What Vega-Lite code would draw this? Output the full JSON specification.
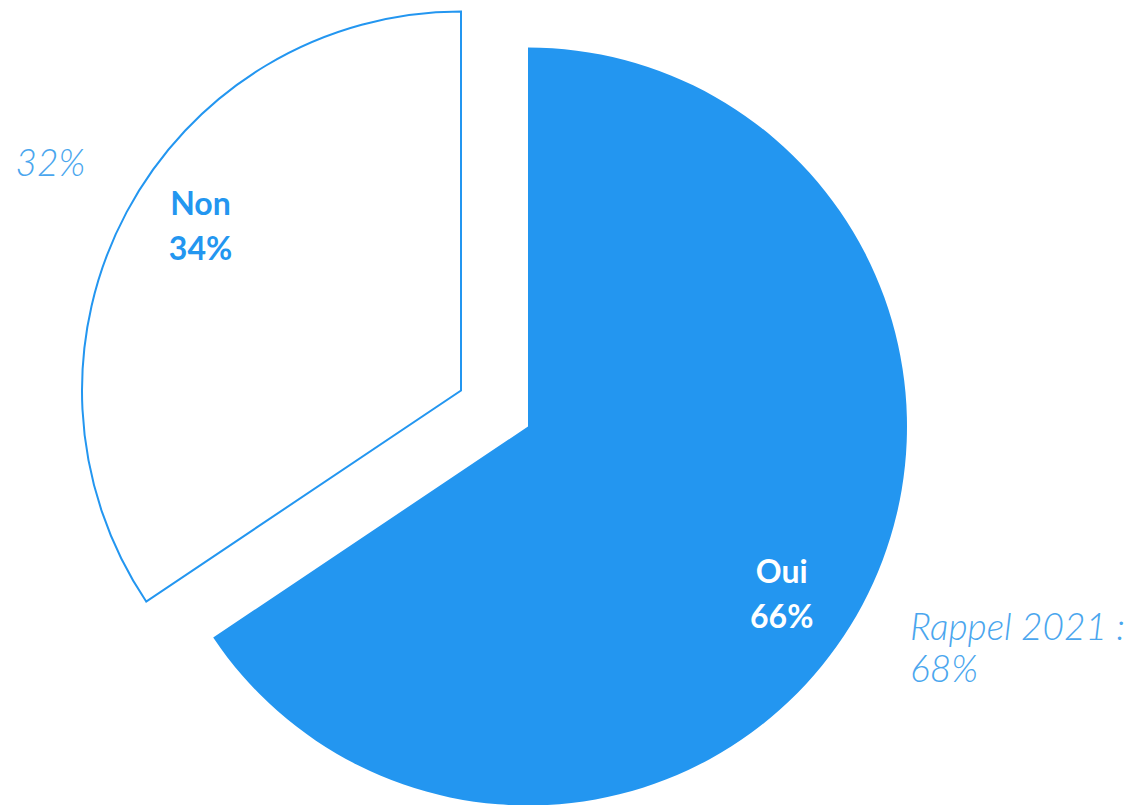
{
  "$schema": "https://vega.github.io/schema/vega-lite/v6.json",
  "width": 1145,
  "height": 805,
  "padding": 0,
  "autosize": {"type": "fit", "contains": "padding"},
  "background": "white",
  "config": {"view": {"stroke": null}},
  "data": {
    "values": [
      {"cat": "Oui", "value": 65.6, "label": ["Oui", "66%"], "prev": ["Rappel 2021 :", "68%"]},
      {"cat": "Non", "value": 34.4, "label": ["Non", "34%"], "prev": ["32%"]}
    ]
  },
  "encoding": {
    "theta": {"field": "value", "type": "quantitative", "stack": true, "scale": {"domain": [0, 100]}},
    "order": {"field": "cat", "sort": "descending"}
  },
  "layer": [
    {
      "mark": {"type": "arc", "outerRadius": 379, "color": "#2396F0", "xOffset": -44.5, "yOffset": 24.5},
      "encoding": {"opacity": {"condition": {"test": "datum.cat === 'Oui'", "value": 1}, "value": 0}}
    },
    {
      "mark": {"type": "arc", "outerRadius": 379, "fill": "white", "stroke": "#2396F0", "strokeWidth": 2, "xOffset": -111.5, "yOffset": -11.5},
      "encoding": {"opacity": {"condition": {"test": "datum.cat === 'Non'", "value": 1}, "value": 0}}
    },
    {
      "mark": {"type": "text", "radius": 300, "xOffset": -44.5, "yOffset": 24.5, "dx": -11, "dy": 5, "font": "Lato", "fontWeight": "bold", "fontSize": 32, "lineHeight": 45, "color": "white", "align": "center", "baseline": "middle"},
      "encoding": {"text": {"condition": {"test": "datum.cat === 'Oui'", "field": "label"}, "value": ""}}
    },
    {
      "mark": {"type": "text", "radius": 310, "xOffset": -111.5, "yOffset": -11.5, "dx": 13, "dy": -40, "font": "Lato", "fontWeight": "bold", "fontSize": 32, "lineHeight": 45, "color": "#2396F0", "align": "center", "baseline": "middle"},
      "encoding": {"text": {"condition": {"test": "datum.cat === 'Non'", "field": "label"}, "value": ""}}
    },
    {
      "mark": {"type": "text", "radius": 450, "xOffset": -44.5, "yOffset": 24.5, "dx": -15, "dy": -9, "font": "Lato", "fontWeight": 300, "fontStyle": "italic", "fontSize": 37, "lineHeight": 42, "color": "#4AA6EE", "align": "left", "baseline": "middle"},
      "encoding": {"text": {"condition": {"test": "datum.cat === 'Oui'", "field": "prev"}, "value": ""}}
    },
    {
      "mark": {"type": "text", "radius": 470, "xOffset": -111.5, "yOffset": -11.5, "dx": 4, "dy": -4, "font": "Lato", "fontWeight": 300, "fontStyle": "italic", "fontSize": 37, "lineHeight": 42, "color": "#4AA6EE", "align": "center", "baseline": "middle"},
      "encoding": {"text": {"condition": {"test": "datum.cat === 'Non'", "field": "prev"}, "value": ""}}
    }
  ]
}
